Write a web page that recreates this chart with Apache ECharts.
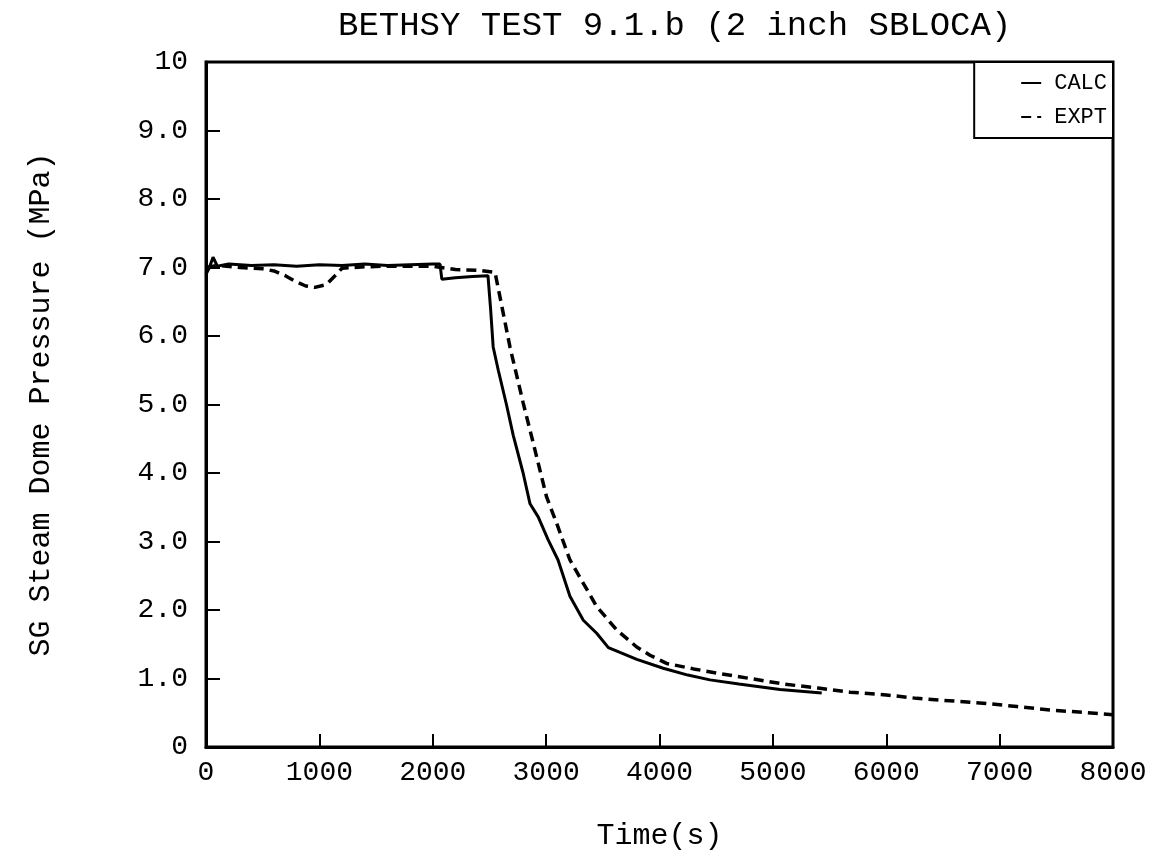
<!DOCTYPE html>
<html>
<head>
<meta charset="utf-8">
<script src="https://cdn.jsdelivr.net/npm/echarts@6/dist/echarts.min.js"></script>
<style>html,body{margin:0;padding:0;background:#fff}#c{width:1158px;height:861px}</style>
</head>
<body>
<div id="c"></div>
<script>
const titleText = 'BETHSY TEST 9.1.b (2 inch SBLOCA)';
const xName = 'Time(s)';
const yName = 'SG Steam Dome Pressure (MPa)';
const seriesNames = ['CALC', 'EXPT'];
const xTicks = [0, 1000, 2000, 3000, 4000, 5000, 6000, 7000, 8000];
const yTickLabels = ['0', '1.0', '2.0', '3.0', '4.0', '5.0', '6.0', '7.0', '8.0', '9.0', '10'];

const timeCalc = [0, 30, 62, 100, 200, 400, 600, 800, 1000, 1200, 1400, 1600, 1800, 2000, 2064, 2080, 2200, 2350, 2487, 2510, 2533, 2578, 2650, 2710, 2797, 2858, 2930, 3019, 3105, 3210, 3328, 3446, 3549, 3651, 3800, 4033, 4250, 4445, 4700, 5063, 5431];
const presCalc = [6.9, 7.0, 7.15, 7.02, 7.05, 7.03, 7.04, 7.02, 7.04, 7.03, 7.05, 7.03, 7.04, 7.05, 7.05, 6.83, 6.85, 6.87, 6.88, 6.4, 5.84, 5.5, 5.0, 4.55, 4.0, 3.55, 3.36, 3.02, 2.73, 2.2, 1.85, 1.66, 1.45, 1.38, 1.28, 1.15, 1.05, 0.98, 0.92, 0.84, 0.79];

const timeExpt = [0, 100, 300, 500, 600, 700, 785, 880, 961, 1060, 1138, 1200, 1400, 1600, 1800, 2000, 2200, 2400, 2549, 2593, 2681, 2798, 2886, 3004, 3092, 3210, 3328, 3446, 3622, 3799, 3916, 4063, 4300, 4504, 4800, 5093, 5400, 5680, 6000, 6271, 6600, 6853, 7153, 7444, 7700, 8000];
const presExpt = [7.0, 7.03, 7.0, 6.98, 6.95, 6.88, 6.8, 6.73, 6.71, 6.75, 6.88, 6.99, 7.01, 7.02, 7.02, 7.02, 6.97, 6.96, 6.93, 6.57, 5.84, 5.02, 4.44, 3.65, 3.27, 2.73, 2.39, 2.05, 1.71, 1.46, 1.34, 1.22, 1.14, 1.08, 1.0, 0.92, 0.86, 0.80, 0.76, 0.71, 0.67, 0.64, 0.59, 0.54, 0.51, 0.47];

const FONT = '"Liberation Mono", "DejaVu Sans Mono", monospace';
const calcData = timeCalc.map((t, i) => [t, presCalc[i]]);
const exptData = timeExpt.map((t, i) => [t, presExpt[i]]);

const chart = echarts.init(document.getElementById('c'), null, {renderer: 'canvas'});
chart.setOption({
  animation: false,
  backgroundColor: '#fff',
  title: {
    text: titleText,
    left: 333, top: 4,
    textStyle: {fontFamily: FONT, fontSize: 34, fontWeight: 'normal', color: '#000'}
  },
  legend: {
    data: [
      {name: seriesNames[0]},
      {name: seriesNames[1]}
    ],
    orient: 'vertical',
    right: 45, top: 62,
    padding: [10, 6, 10, 46],
    itemGap: 12,
    itemWidth: 20, itemHeight: 14,
    borderColor: '#000', borderWidth: 2,
    backgroundColor: '#fff',
    itemStyle: {opacity: 0},
    textStyle: {fontFamily: FONT, fontSize: 22, color: '#000', padding: [0, 0, 0, 8]}
  },
  grid: {
    left: 206, right: 45, top: 62, bottom: 114,
    show: true, borderColor: '#000', borderWidth: 3, backgroundColor: 'transparent'
  },
  xAxis: {
    type: 'value', min: 0, max: 8000, interval: 1000,
    name: xName, nameLocation: 'middle', nameGap: 74,
    nameTextStyle: {fontFamily: FONT, fontSize: 30, color: '#000'},
    axisLine: {show: true, lineStyle: {color: '#000', width: 3}},
    axisTick: {show: true, inside: true, length: 13, lineStyle: {color: '#000', width: 2}},
    splitLine: {show: false},
    axisLabel: {fontFamily: FONT, fontSize: 28, color: '#000', margin: 12,
      formatter: v => String(xTicks[Math.round(v / 1000)])}
  },
  yAxis: {
    type: 'value', min: 0, max: 10, interval: 1,
    name: yName, nameLocation: 'middle', nameGap: 150, nameRotate: 90,
    nameTextStyle: {fontFamily: FONT, fontSize: 30, color: '#000'},
    axisLine: {show: true, lineStyle: {color: '#000', width: 3}},
    axisTick: {show: true, inside: true, length: 14, lineStyle: {color: '#000', width: 2}},
    splitLine: {show: false},
    axisLabel: {fontFamily: FONT, fontSize: 28, color: '#000', margin: 18,
      formatter: v => yTickLabels[Math.round(v)]}
  },
  series: [
    {
      name: seriesNames[0], type: 'line', data: calcData, showSymbol: false, symbol: 'none',
      lineStyle: {color: '#000', width: 3},
      itemStyle: {color: '#000'}
    },
    {
      name: seriesNames[1], type: 'line', data: exptData, showSymbol: false, symbol: 'none',
      lineStyle: {color: '#000', width: 3.5, type: [10, 6]},
      itemStyle: {color: '#000'}
    }
  ]
});
</script>
</body>
</html>
